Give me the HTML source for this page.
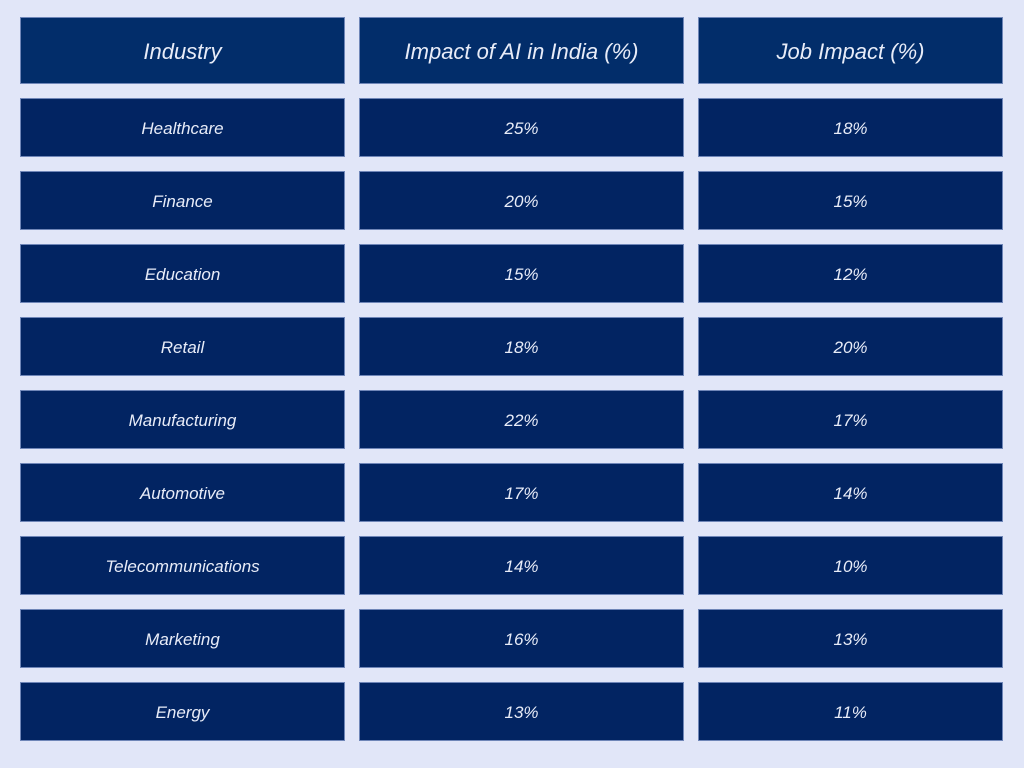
<!DOCTYPE html>
<html><head><meta charset="utf-8"><style>
html,body{margin:0;padding:0;}
body{width:1024px;height:768px;background:#e1e6f8;position:relative;overflow:hidden;font-family:"Liberation Sans",sans-serif;font-style:italic;color:#e8ecf8;}
.c{position:absolute;display:flex;align-items:center;justify-content:center;background:#022462;box-shadow:0 0 0 1px #6f86b8 inset;box-sizing:border-box;padding-top:3px;}
.h{background:#022d6a;font-size:22px;}
.r{font-size:17px;}
</style></head><body>
<div id="t"></div>
<script>
var cols=[[20,325],[359,325],[698,305]];
var hd=["Industry","Impact of AI in India (%)","Job Impact (%)"];
var rows=[["Healthcare","25%","18%"],["Finance","20%","15%"],["Education","15%","12%"],["Retail","18%","20%"],["Manufacturing","22%","17%"],["Automotive","17%","14%"],["Telecommunications","14%","10%"],["Marketing","16%","13%"],["Energy","13%","11%"]];
var h="";
for(var j=0;j<3;j++)h+='<div class="c h" style="left:'+cols[j][0]+'px;top:17px;width:'+cols[j][1]+'px;height:67px">'+hd[j]+'</div>';
for(var i=0;i<rows.length;i++)for(var j=0;j<3;j++)h+='<div class="c r" style="left:'+cols[j][0]+'px;top:'+(98+73*i)+'px;width:'+cols[j][1]+'px;height:59px">'+rows[i][j]+'</div>';
document.getElementById("t").innerHTML=h;
</script>
</body></html>
